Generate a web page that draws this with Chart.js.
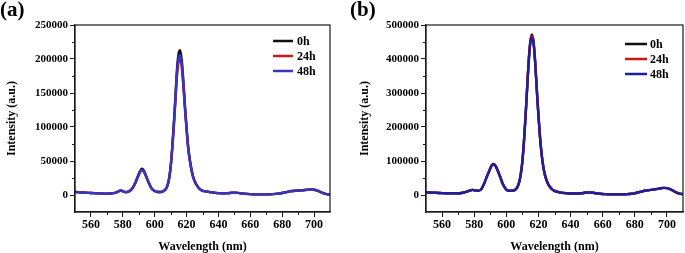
<!DOCTYPE html>
<html>
<head>
<meta charset="utf-8">
<script src="https://cdn.jsdelivr.net/npm/chart.js@4/dist/chart.umd.min.js"></script>
<style>
html, body { margin: 0; padding: 0; background: #fff; }
#wrap { position: relative; width: 685px; height: 253px; overflow: hidden; }
.panel { position: absolute; top: 0; height: 253px; }
.tag { position: absolute; top: -3px; font: bold 21px "Liberation Serif", "Times New Roman", serif; color: #000; }
</style>
</head>
<body>
<div id="wrap">
  <div class="panel" style="left:0;width:340px"><canvas id="chartA"></canvas></div>
  <div class="panel" style="left:340px;width:345px"><canvas id="chartB"></canvas></div>
  <div class="tag" style="left:0px">(a)</div>
  <div class="tag" style="left:350px">(b)</div>
</div>
<script>
// wavelength grid (nm), denser around the peaks
const wavelengths = [
  550,552,554,556,558,560,562,564,566,568,570,572,574,576,
  578,579,580,582,584,586,588,
  589,590,591,592,593,594,
  596,598,600,602,604,606,
  607,608,609,610,611,612,613,614,615,616,617,618,619,620,621,622,623,624,
  626,628,630,632,634,636,638,640,642,644,646,648,650,652,654,656,658,660,662,664,666,668,670,672,674,676,678,680,682,684,686,688,690,692,694,696,698,700,702,704,706,708,710
];
const seriesLabels = ['0h', '24h', '48h'];

// panel (a)
const a0h = [
  4500,4200,3800,3500,3200,3000,2800,2500,2200,2000,2000,2200,2800,4000,
  6200,6800,5500,4200,5500,10000,19000,
  25000,31000,36000,38500,37000,32000,
  20000,10000,6000,4500,4500,6500,
  9000,14000,24000,42000,70000,105000,145000,185000,208000,213000,198000,168000,132000,100000,72000,53000,39000,28000,
  16000,9500,6300,5500,4500,3800,3200,2800,2500,2500,2700,3200,3500,3200,2600,2000,1600,1300,1100,1000,1000,1000,1000,1100,1300,1600,2200,3000,4000,5000,5800,6300,6600,6900,7300,7800,8200,7800,6500,4500,2500,1300,800
];
const a24h = [
  4400,4100,3800,3400,3200,2900,2700,2500,2200,2000,2000,2200,2700,3900,
  6000,6500,5300,4100,5300,9600,18000,
  24000,29000,34000,36000,35000,30000,
  19000,9600,5800,4400,4400,6300,
  8700,13500,23000,40000,67000,100000,138000,175000,196000,200000,187000,160000,126000,96000,69000,51000,37500,27000,
  15500,9300,6100,5400,4400,3700,3100,2700,2400,2400,2600,3100,3400,3100,2500,1900,1500,1300,1100,1000,1000,1000,1000,1100,1300,1600,2100,2900,3900,4900,5700,6200,6500,6800,7200,7700,8000,7600,6400,4400,2400,1300,800
];
const a48h = [
  4500,4200,3700,3500,3100,3000,2800,2400,2200,2000,1900,2200,2800,4000,
  6100,6600,5400,4200,5400,9800,18500,
  24500,30000,35000,37000,35500,31000,
  19500,9800,5900,4500,4500,6400,
  8800,13800,23500,41000,68000,102000,141000,180000,202000,206000,192000,163000,128000,97000,70000,52000,38000,27500,
  15800,9400,6200,5500,4500,3800,3200,2800,2500,2500,2700,3200,3500,3200,2600,2000,1600,1300,1100,1000,1000,1000,1000,1100,1300,1600,2200,3000,4000,5000,5800,6300,6600,6900,7300,7800,8200,7800,6500,4500,2500,1300,800
];

// panel (b)
const b0h = [
  8000,7500,7000,6500,6000,5500,5200,5000,5000,5000,5200,6000,8000,11000,
  14000,15000,14000,12500,15000,32000,56000,
  67000,79000,88000,91000,88000,80000,
  56000,31000,16000,12500,12500,17000,
  24000,38000,62000,100000,160000,235000,320000,400000,455000,472000,450000,390000,310000,235000,170000,120000,85000,60000,
  32000,19000,12000,9000,7000,6000,5000,4500,4500,4500,5000,6000,7500,7500,6500,5000,4000,3000,2500,2000,2000,2000,2000,2000,2200,2800,3500,5000,7500,10000,12500,14000,15000,16500,18000,20000,21000,20000,17000,12000,7000,4000,2500
];
const b24h = [
  8000,7500,7000,6500,6000,5500,5200,5000,5000,5000,5200,6000,8000,11000,
  14000,15000,14000,12500,15000,31000,55000,
  66000,78000,87000,90000,87000,79000,
  55000,30000,16000,12500,12500,17000,
  24000,38000,61000,99000,158000,233000,318000,398000,452000,468000,447000,388000,308000,234000,169000,119000,84000,60000,
  32000,19000,12000,9000,7000,6000,5000,4500,4500,4500,5000,6000,7500,7500,6500,5000,4000,3000,2500,2000,2000,2000,2000,2000,2200,2800,3500,5000,7500,10000,12500,14000,15000,16500,18000,20000,21000,20000,17000,12000,7000,4000,2500
];
const b48h = [
  8000,7500,7000,6500,6000,5500,5200,5000,5000,5000,5200,6000,8000,11000,
  14000,15000,14000,12500,15000,31000,55000,
  66000,78000,87000,90000,87000,78000,
  55000,30000,16000,12500,12500,17000,
  24000,37000,61000,98000,157000,231000,315000,395000,448000,463000,444000,386000,307000,233000,169000,119000,84000,60000,
  32000,19000,12000,9000,7000,6000,5000,4500,4500,4500,5000,6000,7500,7500,6500,5000,4000,3000,2500,2000,2000,2000,2000,2000,2200,2800,3500,5000,7500,10000,12500,14000,15000,16500,18000,20000,21000,20000,17000,12000,7000,4000,2500
];

const xTicks = [560, 580, 600, 620, 640, 660, 680, 700];
const yTicksA = [0, 50000, 100000, 150000, 200000, 250000];
const yTicksB = [0, 100000, 200000, 300000, 400000, 500000];

const FONT = '"Liberation Serif", "Times New Roman", serif';
const INK = '#1a1a1a';

// box around the plot, minor ticks and the in-plot legend
const framePlugin = {
  id: 'frame',
  afterDatasetsDraw(chart, args, o) {
    const { ctx, chartArea: a, scales } = chart;
    ctx.save();
    ctx.strokeStyle = INK;
    ctx.lineWidth = 1.2;
    ctx.strokeRect(a.left, a.top, a.right - a.left, a.bottom - a.top);

    ctx.lineWidth = 1;
    ctx.beginPath();
    const y = scales.y;
    const yv = y.ticks.map(t => t.value);
    const ys = yv[1] - yv[0];
    for (let v = yv[0] - ys / 2; v < y.max; v += ys) {
      if (v <= y.min) continue;
      const p = Math.round(y.getPixelForValue(v)) + 0.5;
      ctx.moveTo(a.left, p);
      ctx.lineTo(a.left - 3, p);
    }
    const x = scales.x;
    const xv = x.ticks.map(t => t.value);
    const xs = xv[1] - xv[0];
    for (let v = xv[0] - xs / 2; v < x.max; v += xs) {
      if (v <= x.min) continue;
      const p = Math.round(x.getPixelForValue(v)) + 0.5;
      ctx.moveTo(p, a.bottom);
      ctx.lineTo(p, a.bottom + 3);
    }
    ctx.stroke();

    // legend
    ctx.font = 'bold 12px ' + FONT;
    ctx.textBaseline = 'middle';
    ctx.textAlign = 'left';
    chart.data.datasets.forEach((ds, i) => {
      const ry = o.rows[i];
      ctx.strokeStyle = ds.borderColor;
      ctx.lineWidth = 2.5;
      ctx.beginPath();
      ctx.moveTo(o.x1, ry);
      ctx.lineTo(o.x2, ry);
      ctx.stroke();
      ctx.fillStyle = '#000';
      ctx.fillText(ds.label, o.tx, ry + 1);
    });
    ctx.restore();
  }
};

function renderPanel(canvasId, values, cfg) {
  const colors = ['#111111', '#c81818', cfg.blue];
  const order = [3, 2, 1];
  new Chart(document.getElementById(canvasId), {
    type: 'line',
    data: {
      datasets: values.map((vals, i) => ({
        label: seriesLabels[i],
        data: wavelengths.map((w, k) => ({ x: w, y: vals[k] })),
        borderColor: colors[i],
        borderWidth: 2.4,
        pointRadius: 0,
        cubicInterpolationMode: 'monotone',
        order: order[i]
      }))
    },
    options: {
      responsive: true,
      maintainAspectRatio: false,
      animation: false,
      events: [],
      layout: { padding: { top: 25, right: cfg.rightPad, left: 0, bottom: -1 } },
      plugins: {
        legend: { display: false },
        tooltip: { enabled: false },
        frame: cfg.legend
      },
      scales: {
        x: {
          type: 'linear',
          min: 550,
          max: 710,
          afterBuildTicks: s => { s.ticks = xTicks.map(v => ({ value: v })); },
          afterFit: s => { s.height = 42; },
          border: { display: true, color: INK, width: 1.2 },
          grid: { drawOnChartArea: false, drawTicks: true, tickLength: 5, color: INK },
          ticks: { color: '#000', padding: 1, maxRotation: 0, autoSkip: false, font: { family: FONT, size: 12, weight: 'bold' } },
          title: { display: true, text: 'Wavelength (nm)', color: '#000', padding: { top: 0, bottom: 0 }, font: { family: FONT, size: 12, weight: 'bold' } }
        },
        y: {
          type: 'linear',
          min: cfg.yMin,
          max: cfg.yMax,
          afterBuildTicks: s => { s.ticks = cfg.yTicks.map(v => ({ value: v })); },
          afterFit: s => { s.width = cfg.yWidth; },
          border: { display: true, color: INK, width: 1.2 },
          grid: { drawOnChartArea: false, drawTicks: true, tickLength: 5, color: INK },
          ticks: {
            color: '#000',
            padding: 2,
            autoSkip: false,
            font: { family: FONT, size: 11, weight: 'bold' },
            callback: v => String(v)
          },
          title: { display: true, text: 'Intensity (a.u.)', color: '#000', padding: { top: cfg.titlePad, bottom: 0 }, font: { family: FONT, size: 12, weight: 'bold' } }
        }
      }
    },
    plugins: [framePlugin]
  });
}

renderPanel('chartA', [a0h, a24h, a48h], {
  blue: '#3535c0',
  yMin: -25000, yMax: 250000, yTicks: yTicksA,
  yWidth: 75, rightPad: 10, titlePad: 5,
  legend: { x1: 273, x2: 293, tx: 297, rows: [41, 56, 71] }
});
renderPanel('chartB', [b0h, b24h, b48h], {
  blue: '#1e1e9e',
  yMin: -50000, yMax: 500000, yTicks: yTicksB,
  yWidth: 86, rightPad: 2, titlePad: 18,
  legend: { x1: 285, x2: 307, tx: 310, rows: [44, 59, 74] }
});
</script>
</body>
</html>
